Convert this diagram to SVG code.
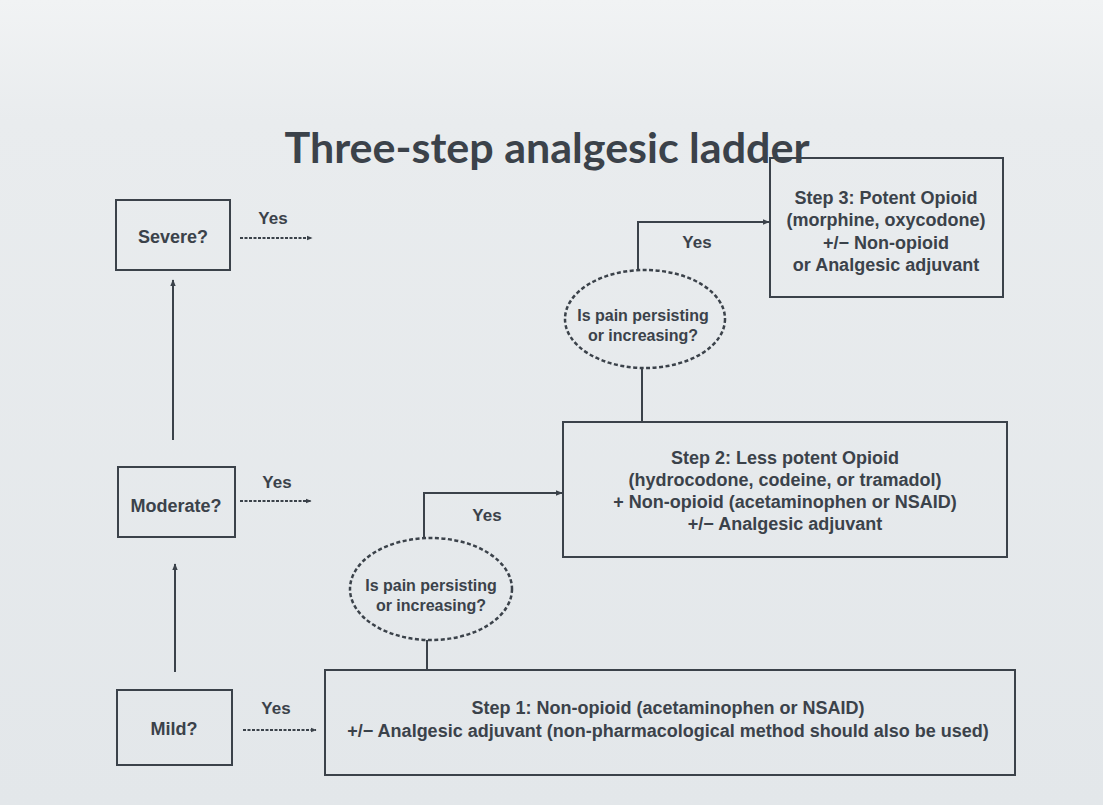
<svg xmlns="http://www.w3.org/2000/svg" width="1103" height="805" viewBox="0 0 1103 805">
<defs>
<linearGradient id="bg" x1="0" y1="0" x2="0" y2="1">
<stop offset="0" stop-color="#f1f3f4"/>
<stop offset="0.15" stop-color="#e9ecee"/>
<stop offset="1" stop-color="#e3e7ea"/>
</linearGradient>
<marker id="ah" viewBox="0 0 10 10" refX="9" refY="5" markerWidth="7" markerHeight="7" markerUnits="userSpaceOnUse" orient="auto">
<path d="M0,1 L10,5 L0,9 Z" fill="#3b424a"/>
</marker>
<marker id="ahs" viewBox="0 0 10 10" refX="9" refY="5" markerWidth="6" markerHeight="6" markerUnits="userSpaceOnUse" orient="auto">
<path d="M0,1 L10,5 L0,9 Z" fill="#3b424a"/>
</marker>
</defs>
<style>
.box{fill:none;stroke:#3b424a;stroke-width:2}
.ell{fill:none;stroke:#3b424a;stroke-width:2.5;stroke-dasharray:4 2.5}
.t{font-family:"Liberation Sans",Arial,sans-serif;font-weight:bold;fill:#3b424a;text-anchor:middle}
.b{font-size:18px}
.e{font-size:16px}
.y{font-size:17px}
.ln{fill:none;stroke:#3b424a;stroke-width:2}
.dl{fill:none;stroke:#3b424a;stroke-width:2;stroke-dasharray:3 1.5}
</style>
<rect x="0" y="0" width="1103" height="805" fill="url(#bg)"/>
<text x="547" y="163" font-family="Lato,'Open Sans',sans-serif" font-weight="bold" font-size="42" fill="#3b424a" text-anchor="middle" textLength="525" lengthAdjust="spacingAndGlyphs">Three-step analgesic ladder</text>

<g id="severe">
<rect class="box" x="116" y="200" width="114" height="70"/>
<text class="t b" x="173" y="243">Severe?</text>
</g>
<g id="moderate">
<rect class="box" x="118" y="467" width="117" height="70"/>
<text class="t b" x="176" y="512">Moderate?</text>
</g>
<g id="mild">
<rect class="box" x="117" y="690" width="115" height="75"/>
<text class="t b" x="174" y="735">Mild?</text>
</g>
<g id="step3">
<rect class="box" x="770" y="158" width="233" height="139"/>
<text class="t b" x="886" y="204">Step 3:  Potent Opioid</text>
<text class="t b" x="886" y="226">(morphine, oxycodone)</text>
<text class="t b" x="886" y="249">+/− Non-opioid</text>
<text class="t b" x="886" y="271">or Analgesic adjuvant</text>
</g>
<g id="step2">
<rect class="box" x="563" y="422" width="444" height="135"/>
<text class="t b" x="785" y="464">Step 2:  Less potent Opioid</text>
<text class="t b" x="785" y="486">(hydrocodone, codeine, or tramadol)</text>
<text class="t b" x="785" y="508">+ Non-opioid (acetaminophen or NSAID)</text>
<text class="t b" x="785" y="530">+/− Analgesic adjuvant</text>
</g>
<g id="step1">
<rect class="box" x="325" y="670" width="690" height="105"/>
<text class="t b" x="668" y="714">Step 1:  Non-opioid (acetaminophen or NSAID)</text>
<text class="t b" x="668" y="737">+/− Analgesic adjuvant (non-pharmacological method should also be used)</text>
</g>
<g id="decision-upper">
<ellipse class="ell" cx="645" cy="319" rx="80" ry="49"/>
<text class="t e" x="643" y="321">Is pain persisting</text>
<text class="t e" x="643" y="341">or increasing?</text>
</g>
<g id="decision-lower">
<ellipse class="ell" cx="431" cy="589" rx="81" ry="51"/>
<text class="t e" x="431" y="591">Is pain persisting</text>
<text class="t e" x="431" y="611">or increasing?</text>
</g>

<g id="connectors">
<line class="ln" x1="173" y1="440" x2="173" y2="280" marker-end="url(#ah)"/>
<line class="ln" x1="175" y1="672" x2="175" y2="564" marker-end="url(#ah)"/>
<line class="dl" x1="240" y1="238" x2="312" y2="238" marker-end="url(#ahs)"/>
<line class="dl" x1="240" y1="501" x2="311" y2="501" marker-end="url(#ahs)"/>
<line class="dl" x1="243" y1="730" x2="316" y2="730" marker-end="url(#ahs)"/>
<line class="ln" x1="427" y1="670" x2="427" y2="640"/>
<polyline class="ln" points="424,538 424,493 562,493" marker-end="url(#ah)"/>
<line class="ln" x1="642" y1="422" x2="642" y2="368"/>
<polyline class="ln" points="638,270 638,222 769,222" marker-end="url(#ah)"/>
<text class="t y" x="273" y="224">Yes</text>
<text class="t y" x="277" y="488">Yes</text>
<text class="t y" x="276" y="714">Yes</text>
<text class="t y" x="487" y="521">Yes</text>
<text class="t y" x="697" y="248">Yes</text>
</g>
</svg>
